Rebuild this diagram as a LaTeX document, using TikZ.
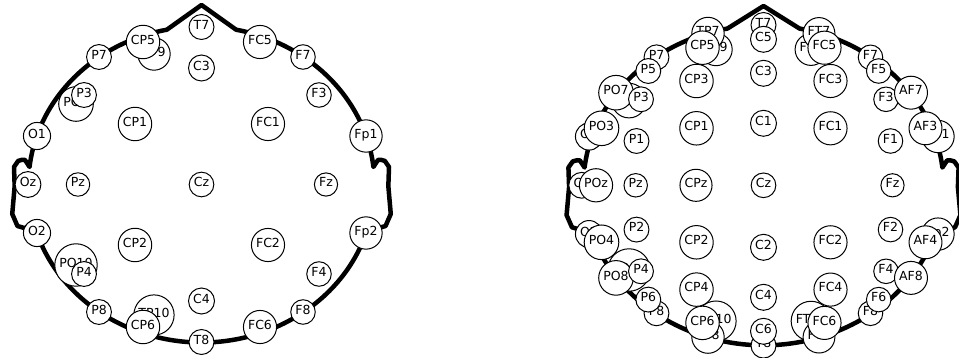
\documentclass[tikz,border=0pt]{standalone}
\usepackage{fontspec}
\usetikzlibrary{calc}
\setmainfont{DejaVu Sans}
\begin{document}
\begin{tikzpicture}[x=1pt,y=-1pt,
  elec/.style={circle, draw, fill=white, line width=1pt, inner xsep=4.5pt, inner ysep=0pt,
    text height=4.56pt, text depth=-4.56pt, font=\fontsize{12.5}{14}\selectfont},
  outline/.style={line width=4.5pt, line join=round, line cap=round}]
\useasboundingbox (0,0) rectangle (959,358);
% ---------- left head outline ----------
\coordinate (Lc) at (201.5,184.5);
\coordinate (Lnr) at ($(Lc)+(-78.46:173 and 158)$);
\coordinate (Lnose) at (201.5,5);
\draw[outline] (Lnr) arc[start angle=-78.46, end angle=-6.37, x radius=173, y radius=158]
  -- (377.96,160.01) -- (380.73,159.76) -- (384.85,160.93) -- (389.0,166.96) -- (388.34,186.24)
  -- (390.76,213.95) -- (385.57,225.99) -- (377.96,228.23) -- (370.69,222.39)
  -- ($(Lc)+(13.78:173 and 158)$)
  arc[start angle=13.78, end angle=166.22, x radius=173, y radius=158]
  -- (32.31,222.39) -- (25.04,228.23) -- (17.43,225.99) -- (12.24,213.95) -- (14.66,186.24)
  -- (14.0,166.96) -- (18.15,160.93) -- (22.27,159.76) -- (25.04,160.01) -- (29.54,166.96)
  arc[start angle=186.37, end angle=258.46, x radius=173, y radius=158]
  -- (Lnose) -- cycle;
% ---------- right head outline ----------
\coordinate (Rc) at (763.5,185.3);
\coordinate (Rnr) at ($(Rc)+(-78.46:180 and 160)$);
\coordinate (Rnose) at (763.5,6);
\draw[outline] (Rnr) arc[start angle=-78.46, end angle=-6.37, x radius=180, y radius=160]
  -- (947.1,160.5) -- (949.98,160.24) -- (954.26,161.43) -- (958.58,167.54) -- (957.9,187.06)
  -- (960.42,215.12) -- (955.02,227.32) -- (947.1,229.59) -- (939.54,223.67)
  -- ($(Rc)+(13.78:180 and 160)$)
  arc[start angle=13.78, end angle=166.22, x radius=180, y radius=160]
  -- (587.46,223.67) -- (579.9,229.59) -- (571.98,227.32) -- (566.58,215.12) -- (569.1,187.06)
  -- (568.42,167.54) -- (572.74,161.43) -- (577.02,160.24) -- (579.9,160.5) -- (584.58,167.54)
  arc[start angle=186.37, end angle=258.46, x radius=180, y radius=160]
  -- (Rnose) -- cycle;
% ---------- left head electrodes ----------
\node[elec] (L-TP9) at (154,54) {TP9};
\node[elec] (L-PO9) at (76,104) {PO9};
\node[elec] (L-PO10) at (76,265) {PO10};
\node[elec] (L-TP10) at (154,315) {TP10};
\node[elec] (L-T7) at (201.5,27) {T7};
\node[elec] (L-C3) at (201.5,68) {C3};
\node[elec] (L-Cz) at (201.5,184.5) {Cz};
\node[elec] (L-C4) at (201.5,301) {C4};
\node[elec] (L-T8) at (201.5,342) {T8};
\node[elec] (L-CP5) at (143,42) {CP5};
\node[elec] (L-CP6) at (143,327) {CP6};
\node[elec] (L-P7) at (99,57) {P7};
\node[elec] (L-P8) at (99,312) {P8};
\node[elec] (L-P3) at (84,95) {P3};
\node[elec] (L-P4) at (84,274) {P4};
\node[elec] (L-CP1) at (135,124) {CP1};
\node[elec] (L-CP2) at (135,245) {CP2};
\node[elec] (L-O1) at (37,136) {O1};
\node[elec] (L-O2) at (37,233) {O2};
\node[elec] (L-Oz) at (28,184.5) {Oz};
\node[elec] (L-Pz) at (78,184.5) {Pz};
\node[elec] (L-FC5) at (260,42) {FC5};
\node[elec] (L-FC6) at (260,327) {FC6};
\node[elec] (L-F7) at (303,57) {F7};
\node[elec] (L-F8) at (303,312) {F8};
\node[elec] (L-F3) at (319,95) {F3};
\node[elec] (L-F4) at (319,274) {F4};
\node[elec] (L-FC1) at (268,124) {FC1};
\node[elec] (L-FC2) at (268,245) {FC2};
\node[elec] (L-Fp1) at (366,136) {Fp1};
\node[elec] (L-Fp2) at (366,233) {Fp2};
\node[elec] (L-Fz) at (326,184.5) {Fz};
% ---------- right head electrodes (hidden ones first) ----------
\node[elec] (R-TP9) at (716,49.5) {TP9};
\node[elec] (R-TP7) at (708,33.5) {TP7};
\node[elec] (R-FT9) at (811,49.5) {FT9};
\node[elec] (R-FT7) at (819,33.5) {FT7};
\node[elec] (R-T7) at (763.5,25) {T7};
\node[elec] (R-TP10) at (716,321.1) {TP10};
\node[elec] (R-TP8) at (708,337.1) {TP8};
\node[elec] (R-FT10) at (811,321.1) {FT10};
\node[elec] (R-FT8) at (819,337.1) {FT8};
\node[elec] (R-T8) at (763.5,345.6) {T8};
\node[elec] (R-O1) at (589,136.5) {O1};
\node[elec] (R-O2) at (589,234.1) {O2};
\node[elec] (R-Oz) at (581.7,185.3) {Oz};
\node[elec] (R-Fp1) at (938,136.5) {Fp1};
\node[elec] (R-Fp2) at (938,234.1) {Fp2};
\node[elec] (R-PO9) at (629,100.6) {PO9};
\node[elec] (R-PO10) at (629,270) {PO10};
\node[elec] (R-P7) at (656.5,57.3) {P7};
\node[elec] (R-P8) at (656.5,313.3) {P8};
\node[elec] (R-F7) at (870.5,57.3) {F7};
\node[elec] (R-F8) at (870.5,313.3) {F8};
% visible ones
\node[elec] (R-C5) at (763.5,39.3) {C5};
\node[elec] (R-C3) at (763.5,73.3) {C3};
\node[elec] (R-C1) at (763.5,123.3) {C1};
\node[elec] (R-Cz) at (763.5,185.3) {Cz};
\node[elec] (R-C2) at (763.5,247.3) {C2};
\node[elec] (R-C4) at (763.5,297.3) {C4};
\node[elec] (R-C6) at (763.5,331.3) {C6};
\node[elec] (R-CP5) at (702.5,47.7) {CP5};
\node[elec] (R-CP6) at (702.5,322.9) {CP6};
\node[elec] (R-FC5) at (824.5,47.7) {FC5};
\node[elec] (R-FC6) at (824.5,322.9) {FC6};
\node[elec] (R-P5) at (648.3,71) {P5};
\node[elec] (R-P6) at (648.3,299.6) {P6};
\node[elec] (R-F5) at (878.7,71) {F5};
\node[elec] (R-F6) at (878.7,299.6) {F6};
\node[elec] (R-PO7) at (616,92.7) {PO7};
\node[elec] (R-PO8) at (616,277.9) {PO8};
\node[elec] (R-P3) at (641,99.3) {P3};
\node[elec] (R-P4) at (641,271.3) {P4};
\node[elec] (R-F3) at (886,99.3) {F3};
\node[elec] (R-F4) at (886,271.3) {F4};
\node[elec] (R-AF7) at (911,92.7) {AF7};
\node[elec] (R-AF8) at (911,277.9) {AF8};
\node[elec] (R-CP3) at (696.5,81) {CP3};
\node[elec] (R-CP4) at (696.5,289.6) {CP4};
\node[elec] (R-FC3) at (830.5,81) {FC3};
\node[elec] (R-FC4) at (830.5,289.6) {FC4};
\node[elec] (R-CP1) at (696.5,128.3) {CP1};
\node[elec] (R-CP2) at (696.5,242.3) {CP2};
\node[elec] (R-FC1) at (830.5,128.3) {FC1};
\node[elec] (R-FC2) at (830.5,242.3) {FC2};
\node[elec] (R-P1) at (636.5,141) {P1};
\node[elec] (R-P2) at (636.5,229.6) {P2};
\node[elec] (R-F1) at (890.5,141) {F1};
\node[elec] (R-F2) at (890.5,229.6) {F2};
\node[elec] (R-PO3) at (601.5,128.3) {PO3};
\node[elec] (R-PO4) at (601.5,242.3) {PO4};
\node[elec] (R-AF3) at (925.5,128.3) {AF3};
\node[elec] (R-AF4) at (925.5,242.3) {AF4};
\node[elec] (R-POz) at (596,185.3) {POz};
\node[elec] (R-Pz) at (635.7,185.3) {Pz};
\node[elec] (R-CPz) at (696,185.3) {CPz};
\node[elec] (R-Fz) at (892.5,185.3) {Fz};
\end{tikzpicture}
\end{document}
